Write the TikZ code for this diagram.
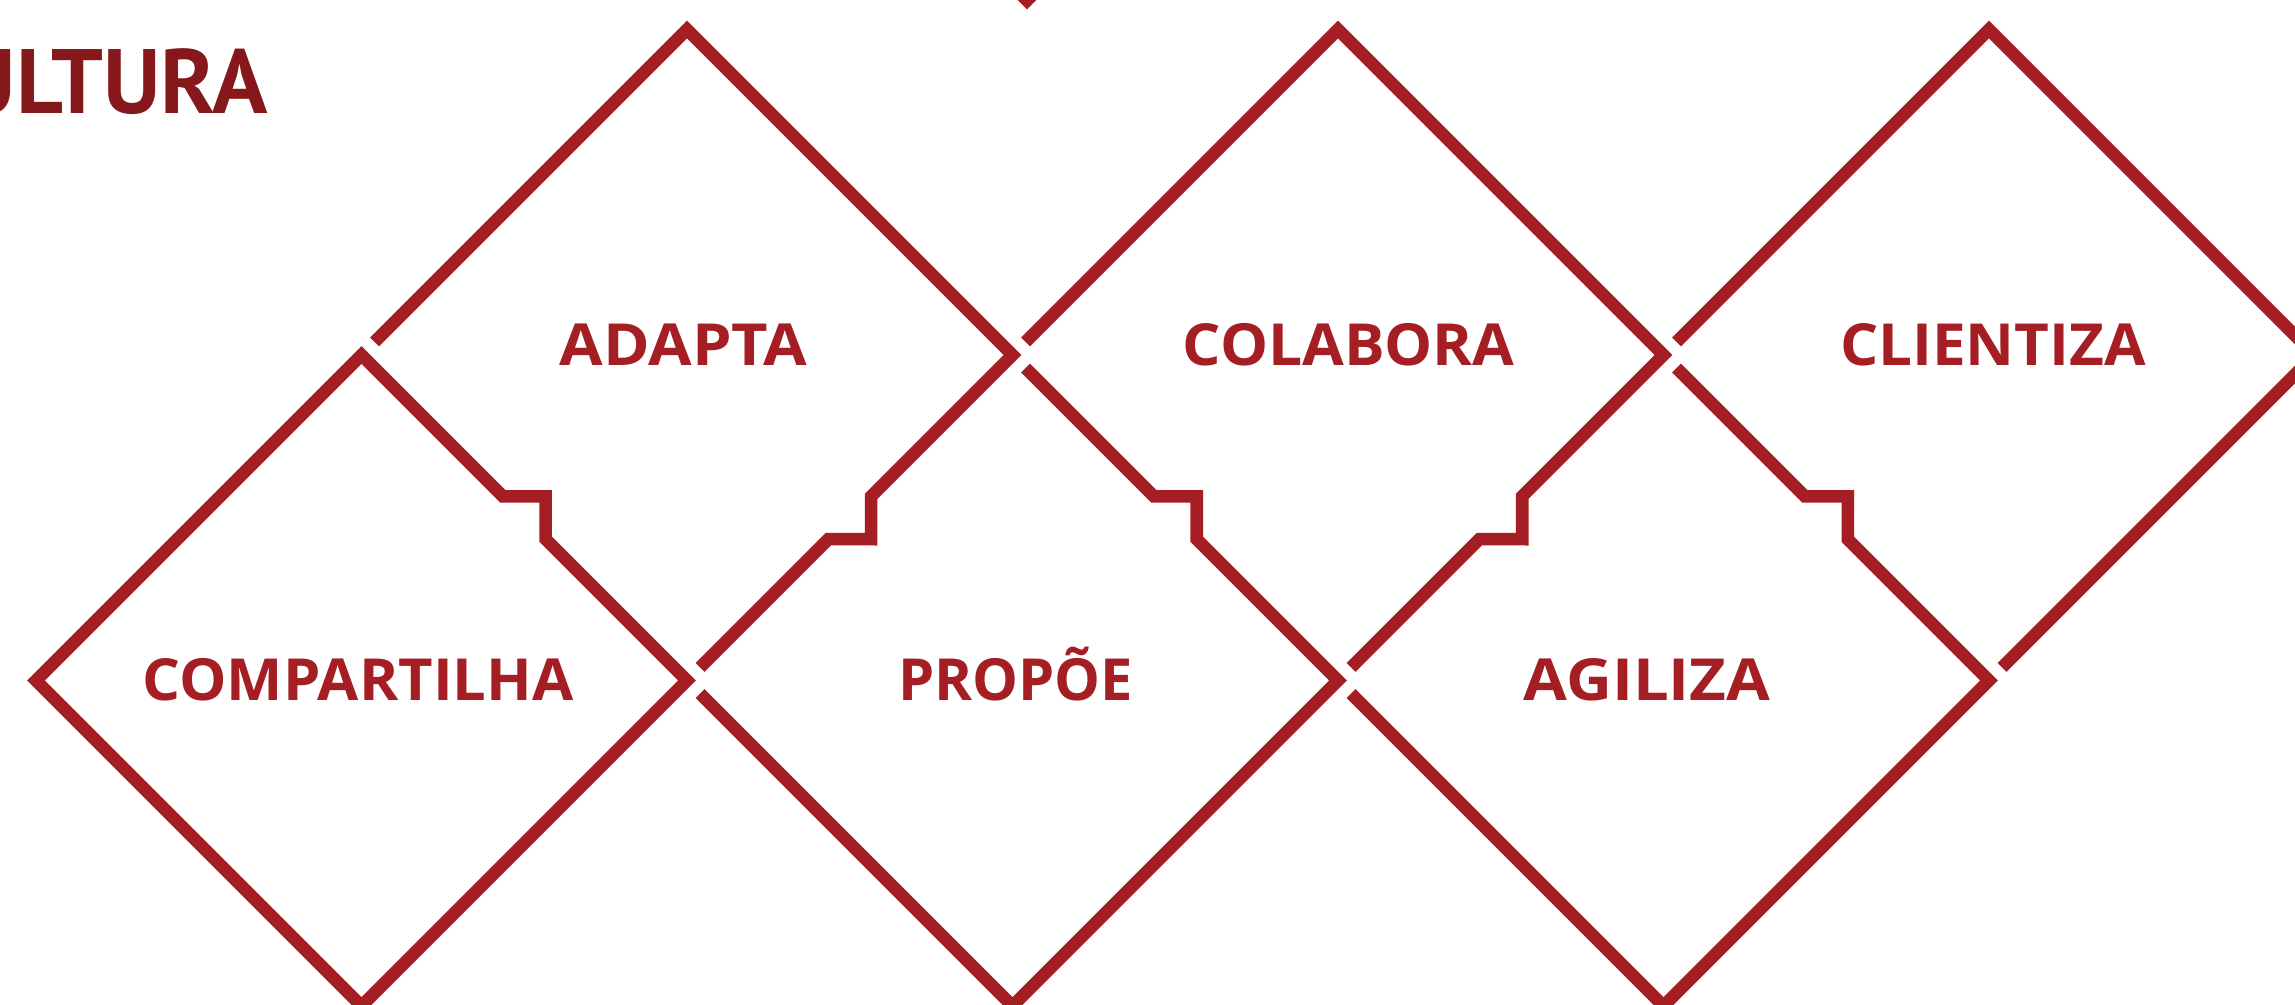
\documentclass[tikz,border=0pt]{standalone}
\usepackage{fontspec}
\setmainfont{Open Sans}
\newfontfamily\titlefont{PT Sans}
\usetikzlibrary{calc}
\definecolor{wine}{HTML}{A51E23}
\definecolor{darkwine}{HTML}{86171B}
% set a word at a given overall width, keeping its height
\newlength\wordwd
\newcommand\fitword[2]{\settowidth\wordwd{#2}\pgfmathsetmacro\wordratio{(#1)/(\wordwd)}\scalebox{\wordratio}[1]{#2}}
\begin{document}
\begin{tikzpicture}[x=3.255cm, y=-3.255cm,
  outline/.style={draw=wine, line width=3.56pt, line join=miter},
  word/.style={text=wine, font=\bfseries\fontsize{16.5}{18}\selectfont, anchor=base, inner sep=0pt}]
\fill[white] (-0.1106,-0.0906) rectangle (6.9401,2.9969);
\useasboundingbox (-0.1106,-0.0906) rectangle (6.9401,2.9969);
\clip (-0.1106,-0.0906) rectangle (6.9401,2.9969);
% lattice of diamond corners
\foreach \i in {0,...,7}{\foreach \j in {0,...,3}{\coordinate (v-\i-\j) at (\i,\j);}}

% top row: ADAPTA and COLABORA (notched lower-right side)
\foreach \k in {0,2}{
  \pgfmathtruncatemacro{\a}{1+\k}
  \pgfmathtruncatemacro{\b}{2+\k}
  \pgfmathtruncatemacro{\c}{3+\k}
  \draw[outline] ($(v-\a-1)!0.04!(v-\b-0)$) -- (v-\b-0) -- (v-\c-1)
    -- ($(v-\c-1)!.434!(v-\b-2)$) -- ++(0,.132) -- ($(v-\c-1)!.566!(v-\b-2)$)
    -- ($(v-\b-2)!0.04!(v-\c-1)$);
}
% CLIENTIZA
\draw[outline] ($(v-5-1)!0.04!(v-6-0)$) -- (v-6-0) -- (v-7-1) -- ($(v-6-2)!0.04!(v-7-1)$);

% COMPARTILHA
\draw[outline] (v-1-1) -- ($(v-1-1)!.434!(v-2-2)$) -- ++(.132,0) -- ($(v-1-1)!.566!(v-2-2)$)
  -- (v-2-2) -- (v-1-3) -- (v-0-2) -- cycle;

% bottom row: PROPOE and AGILIZA (notched upper-right side)
\foreach \k in {0,2}{
  \pgfmathtruncatemacro{\a}{2+\k}
  \pgfmathtruncatemacro{\b}{3+\k}
  \pgfmathtruncatemacro{\c}{4+\k}
  \draw[outline] ($(v-\a-2)!0.04!(v-\b-3)$) -- (v-\b-3) -- (v-\c-2)
    -- ($(v-\b-1)!.566!(v-\c-2)$) -- ++(0,-.132) -- ($(v-\b-1)!.434!(v-\c-2)$)
    -- ($(v-\b-1)!0.04!(v-\c-2)$);
}

% tip of a corner at the top edge
\coordinate (tip) at (3.0445,-0.0891);
\draw[outline] ($(tip)+(-0.12,-0.12)$) -- (tip) -- ($(tip)+(0.12,-0.12)$);

% labels
\node[word] (adapta) at (1.9892,1.0329) {\fitword{2.48cm}{ADAPTA}};
\node[word] (colabora) at (4.0326,1.0329) {\fitword{3.32cm}{COLABORA}};
\node[word] (clientiza) at (6.0123,1.0329) {\fitword{3.06cm}{CLIENTIZA}};
\node[word] (compartilha) at (0.9892,2.0600) {\fitword{4.31cm}{COMPARTILHA}};
\node[word] (propoe) at (3.0092,2.0600) {\fitword{2.35cm}{PROPÕE}};
\node[word] (agiliza) at (4.9493,2.0600) {\fitword{2.47cm}{AGILIZA}};

\node[text=darkwine, font=\titlefont\bfseries\fontsize{26}{28}\selectfont, anchor=base east, inner sep=0pt]
  (cultura) at (0.7127,0.2575) {CULTURA};
\end{tikzpicture}
\end{document}
